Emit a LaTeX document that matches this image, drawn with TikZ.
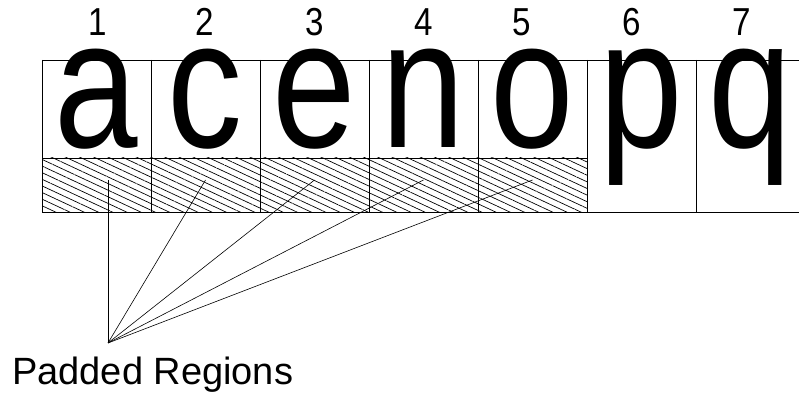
\documentclass[tikz,border=0pt]{standalone}
\usepackage{fontspec}
\setmainfont{Liberation Sans}
\usetikzlibrary{patterns.meta}
\newcommand{\bigglyph}[1]{\scalebox{0.82}[1]{\fontsize{183}{183}\selectfont #1}}
\newcommand{\slotnum}[1]{\scalebox{0.85}[1]{\fontsize{39}{39}\selectfont #1}}
\tikzset{
  pad/.style={draw,line width=0.8pt,inner sep=0pt,outer sep=0pt,
    minimum width=109pt,minimum height=54pt,
    pattern={Lines[angle=-25,distance=6pt,line width=0.7pt]}},
  glyph/.style={inner sep=0pt,anchor=base},
  slot/.style={inner sep=0pt,anchor=base}
}
\begin{document}
\begin{tikzpicture}[x=1pt,y=1pt]
  \useasboundingbox (0,0) rectangle (799,398);
  % frame of the seven cells
  \draw[line width=0.8pt] (42,338)--(799,338) (42,186)--(799,186);
  \foreach \i in {0,...,6} \draw[line width=0.8pt] (42+109*\i,338)--(42+109*\i,186);
  % padded parts of cells 1-5
  \foreach \i in {1,...,5} \node[pad] (pad\i) at (-12.5+109*\i,213) {};
  % letters
  \foreach \c [count=\i] in {a,c,e,n,o,p,q}
    \node[glyph] (ch\i) at (-12.5+109*\i,250) {\bigglyph{\c}};
  % cell numbers
  \foreach \x [count=\i] in {98,205,315,424,522,632,742}
    \node[slot] (num\i) at (\x,362) {\slotnum{\i}};
  % label and leaders
  \node[inner sep=0pt,anchor=base west] (label) at (12,13)
    {\fontsize{38}{38}\selectfont Padded Regions};
  \coordinate (hub) at (108,55);
  \draw[line width=0.6pt] (hub)--([yshift=5pt]hub |- pad1.center);
  \foreach \i in {2,...,5} \draw[line width=0.6pt] (hub)--([yshift=5pt]pad\i.center);
\end{tikzpicture}
\end{document}
